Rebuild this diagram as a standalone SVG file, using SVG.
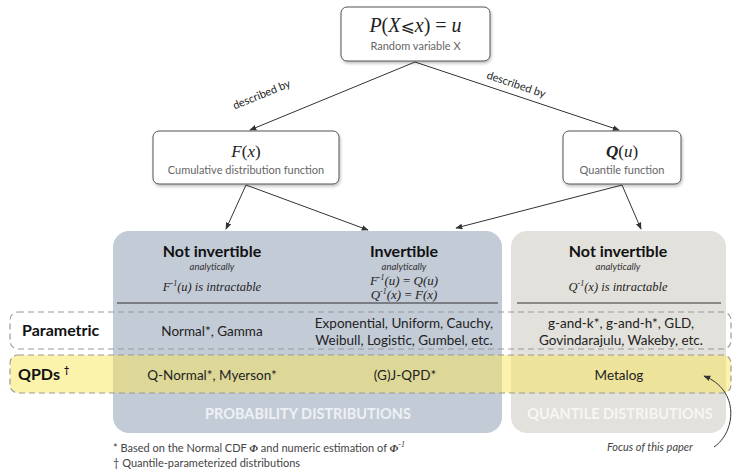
<svg xmlns="http://www.w3.org/2000/svg" width="733" height="471" viewBox="0 0 733 471">
<style>
.box{fill:#fff;stroke:#555;stroke-width:1}
.math{font-family:"Liberation Serif","DejaVu Serif",serif;font-style:italic;fill:#222}
.sub{font-family:Lato,"Liberation Sans",sans-serif;fill:#666;font-size:11px}
.hdr{font-family:Lato,"Liberation Sans",sans-serif;font-weight:bold;font-size:16px;fill:#111}
.an{font-family:Lato,"Liberation Sans",sans-serif;font-style:italic;font-size:9.5px;fill:#333}
.row{font-family:Lato,"Liberation Sans",sans-serif;font-size:13.5px;fill:#222}
.lbl{font-family:Lato,"Liberation Sans",sans-serif;font-weight:bold;font-size:16px;fill:#111}
.big{font-family:Lato,"Liberation Sans",sans-serif;font-weight:bold;font-size:14.5px}
.conn{stroke:#333;stroke-width:1;fill:none}
.desc{font-family:Lato,"Liberation Sans",sans-serif;font-size:11px;fill:#222}
.foot{font-family:Lato,"Liberation Sans",sans-serif;font-size:11px;fill:#444}
.dash{fill:none;stroke:#9a9a9a;stroke-width:1.2;stroke-dasharray:6 4}
</style>
<defs>
<marker id="arr" viewBox="0 0 10 10" refX="9" refY="5" markerWidth="7" markerHeight="7" orient="auto-start-reverse">
<path d="M0,1 L10,5 L0,9 z" fill="#333"/>
</marker>
<filter id="sh" x="-10%" y="-10%" width="125%" height="135%">
<feDropShadow dx="1" dy="2" stdDeviation="1.5" flood-color="#000" flood-opacity="0.25"/>
</filter>
</defs>

<g id="prob-region">
<rect x="113" y="231" width="389" height="202" rx="16" fill="#c3cbd7"/>
<text x="308" y="419" text-anchor="middle" class="big" fill="#eef1f5">PROBABILITY DISTRIBUTIONS</text>
</g>
<g id="quant-region">
<rect x="511" y="231" width="215" height="202" rx="16" fill="#e3e1dc"/>
<text x="620" y="419" text-anchor="middle" class="big" fill="#f7f6f2">QUANTILE DISTRIBUTIONS</text>
</g>

<g id="parametric-row">
<rect x="10" y="312" width="721" height="37" rx="8" class="dash"/>
<text x="22" y="336" class="lbl">Parametric</text>
<text x="212" y="336" text-anchor="middle" class="row">Normal*, Gamma</text>
<text x="404" y="328" text-anchor="middle" class="row">Exponential, Uniform, Cauchy,</text>
<text x="404" y="345" text-anchor="middle" class="row">Weibull, Logistic, Gumbel, etc.</text>
<text x="621" y="328" text-anchor="middle" class="row">g-and-k*, g-and-h*, GLD,</text>
<text x="621" y="345" text-anchor="middle" class="row">Govindarajulu, Wakeby, etc.</text>
</g>

<g id="qpd-row">
<rect x="10" y="355" width="721" height="38" rx="8" fill="#f7e55a" fill-opacity="0.5"/>
<rect x="10" y="355" width="721" height="38" rx="8" class="dash"/>
<text x="18" y="380" class="lbl">QPDs<tspan font-size="9" dy="-7" dx="4">†</tspan></text>
<text x="212" y="380" text-anchor="middle" class="row">Q-Normal*, Myerson*</text>
<text x="405" y="380" text-anchor="middle" class="row">(G)J-QPD*</text>
<text x="619" y="380" text-anchor="middle" class="row">Metalog</text>
</g>

<g id="col-notinv-F">
<text x="212" y="257" text-anchor="middle" class="hdr">Not invertible</text>
<text x="212" y="270" text-anchor="middle" class="an">analytically</text>
<text x="212" y="291" text-anchor="middle" class="math" font-size="12.5">F<tspan font-size="8" dy="-5">-1</tspan><tspan dy="5">(u) is intractable</tspan></text>
</g>
<g id="col-inv">
<text x="404" y="257" text-anchor="middle" class="hdr">Invertible</text>
<text x="404" y="270" text-anchor="middle" class="an">analytically</text>
<text x="404" y="285" text-anchor="middle" class="math" font-size="13">F<tspan font-size="8" dy="-5">-1</tspan><tspan dy="5">(u) </tspan><tspan font-style="normal">=</tspan> Q(u)</text>
<text x="404" y="299" text-anchor="middle" class="math" font-size="13">Q<tspan font-size="8" dy="-5">-1</tspan><tspan dy="5">(x) </tspan><tspan font-style="normal">=</tspan> F(x)</text>
</g>
<g id="col-notinv-Q">
<text x="618" y="257" text-anchor="middle" class="hdr">Not invertible</text>
<text x="618" y="270" text-anchor="middle" class="an">analytically</text>
<text x="618" y="291" text-anchor="middle" class="math" font-size="12.5">Q<tspan font-size="8" dy="-5">-1</tspan><tspan dy="5">(x) is intractable</tspan></text>
</g>
<g id="header-rules">
<line x1="117" y1="303" x2="498" y2="303" stroke="#333" stroke-width="1.2"/>
<line x1="517" y1="303" x2="721" y2="303" stroke="#333" stroke-width="1.2"/>
</g>

<g id="node-random">
<rect x="341" y="7" width="149" height="54" rx="6" class="box" filter="url(#sh)"/>
<text x="415.5" y="32" text-anchor="middle" class="math" font-size="20">P<tspan font-style="normal">(</tspan>X<tspan font-family="DejaVu Sans" font-style="normal" font-size="17">⩽</tspan>x<tspan font-style="normal">) = </tspan>u</text>
<text x="415.5" y="50" text-anchor="middle" class="sub">Random variable X</text>
</g>
<g id="node-cdf">
<rect x="153" y="131" width="186" height="53" rx="6" class="box" filter="url(#sh)"/>
<text x="246" y="157" text-anchor="middle" class="math" font-size="17">F<tspan font-style="normal">(</tspan>x<tspan font-style="normal">)</tspan></text>
<text x="246" y="174" text-anchor="middle" class="sub">Cumulative distribution function</text>
</g>
<g id="node-qf">
<rect x="563" y="131" width="118" height="53" rx="6" class="box" filter="url(#sh)"/>
<text x="622" y="157" text-anchor="middle" class="math" font-size="17" font-weight="bold">Q<tspan font-style="normal" font-weight="normal">(</tspan><tspan font-weight="normal">u</tspan><tspan font-style="normal" font-weight="normal">)</tspan></text>
<text x="622" y="174" text-anchor="middle" class="sub">Quantile function</text>
</g>

<g id="connectors">
<line x1="415" y1="62" x2="250" y2="130" class="conn" marker-end="url(#arr)"/>
<line x1="415" y1="62" x2="619" y2="130" class="conn" marker-end="url(#arr)"/>
<line x1="246" y1="185" x2="226" y2="229" class="conn" marker-end="url(#arr)"/>
<line x1="246" y1="185" x2="368" y2="230" class="conn" marker-end="url(#arr)"/>
<line x1="622" y1="185" x2="456" y2="228" class="conn" marker-end="url(#arr)"/>
<line x1="622" y1="185" x2="641" y2="229" class="conn" marker-end="url(#arr)"/>
<path d="M714,447 C736,432 740,390 704,376" class="conn" marker-end="url(#arr)"/>
<text class="desc" text-anchor="middle" transform="translate(263,98) rotate(-22.3)">described by</text>
<text class="desc" text-anchor="middle" transform="translate(515,88) rotate(18.5)">described by</text>
</g>

<g id="notes">
<text x="113" y="452" class="foot">* Based on the Normal CDF <tspan font-family="Liberation Serif,serif" font-style="italic" font-weight="bold">Φ</tspan> and numeric estimation of <tspan font-family="Liberation Serif,serif" font-style="italic" font-weight="bold">Φ</tspan><tspan font-family="Liberation Serif,serif" font-style="italic" font-size="8" dy="-5">-1</tspan></text>
<text x="113" y="467" class="foot">† Quantile-parameterized distributions</text>
<text x="607" y="451" class="foot" font-style="italic" font-size="12.5">Focus of this paper</text>
</g>
</svg>
